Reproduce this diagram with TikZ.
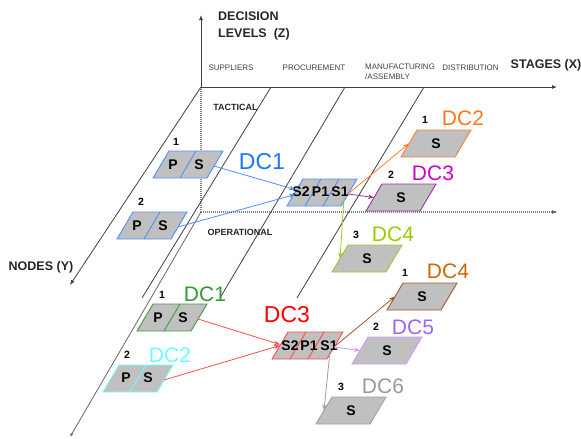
\documentclass[tikz,border=0pt]{standalone}
\usepackage{fontspec}
\setmainfont{Liberation Sans}
\usetikzlibrary{arrows.meta}
\definecolor{boxgray}{HTML}{C0C0C0}
\definecolor{cblue}{HTML}{4D8FFF}
\definecolor{lblue}{HTML}{1A75FF}
\definecolor{corange}{HTML}{FF8033}
\definecolor{lorange}{HTML}{FF7518}
\definecolor{cpurple}{HTML}{993399}
\definecolor{lmagenta}{HTML}{CC00CC}
\definecolor{cyg}{HTML}{99CC33}
\definecolor{lyg}{HTML}{99CC00}
\definecolor{cgreen}{HTML}{3F9A3F}
\definecolor{lgreen}{HTML}{339933}
\definecolor{ccyan}{HTML}{70FFFF}
\definecolor{lcyan}{HTML}{66FFFF}
\definecolor{cred}{HTML}{FF4D4D}
\definecolor{lred}{HTML}{FF0000}
\definecolor{cbrown}{HTML}{A8582E}
\definecolor{lbrown}{HTML}{CC6600}
\definecolor{clav}{HTML}{CC99FF}
\definecolor{llav}{HTML}{9966FF}
\definecolor{cgray}{HTML}{A0A0A0}
\definecolor{lgray}{HTML}{999999}
% box: name, bottom-left x, bottom y, width, colour
\newcommand\cbox[5]{%
  \filldraw[boxst, draw=#5] (#2,#3) -- ++(#4,0) -- ++(16,-27) -- ++(-#4,0) -- cycle;
  \coordinate (#1-L) at (#2+8,#3-13.5);
  \coordinate (#1-R) at (#2+#4+7,#3-12);
}
\newcommand\cdiv[3]{% bottom x, bottom y, colour
  \draw[draw=#3, line width=0.9pt] (#1,#2) -- ++(16,-27);
}
\begin{document}
\begin{tikzpicture}[x=1pt,y=-1pt,
  axis/.style={draw=black!75, line width=0.8pt},
  axarr/.style={axis, -{Latex[length=5pt,width=4pt]}},
  dots/.style={draw=black!50, dash pattern=on 1pt off 1pt, line width=1.2pt},
  boxst/.style={fill=boxgray, line width=0.9pt},
  cell/.style={font=\bfseries\fontsize{14}{15}\selectfont, inner sep=0.5pt},
  num/.style={font=\bfseries\fontsize{10.5}{11}\selectfont, inner sep=0pt},
  dclab/.style={font=\fontsize{21}{22}\selectfont, inner sep=0pt},
  biglab/.style={font=\fontsize{23}{24}\selectfont, inner sep=0pt},
  stage/.style={font=\fontsize{8}{10}\selectfont, text=black!75, inner sep=0pt},
  lvl/.style={font=\bfseries\fontsize{9}{10}\selectfont, text=black!85, inner sep=0pt},
  ttl/.style={font=\bfseries\fontsize{12.5}{17}\selectfont, text=black!85, inner sep=0pt},
  link/.style={line width=0.8pt, -{Stealth[length=6pt,width=4.5pt]}},
]
\useasboundingbox (0,0) rectangle (581,439);

% ---------- axes ----------
\coordinate (O) at (201,87);
\coordinate (Ztop) at (201,15);
\coordinate (Xend) at (557,87);
\coordinate (Yend) at (70,285);
\coordinate (Oop) at (201,212);
\coordinate (Xop) at (557,212);
\coordinate (Yop) at (70,437);
\coordinate (A1) at (271,87);  \coordinate (B1) at (142,298);
\coordinate (A2) at (345,87);  \coordinate (B2) at (220,298);
\coordinate (A3) at (424,87);  \coordinate (B3) at (297,298);

\draw[dots] (O) -- (Oop);
\draw[dots] (Oop) -- (Xop);
\draw[axis, draw=black!60, -{Latex[length=5pt,width=4pt]}] ([xshift=-2pt]Xop) -- (Xop);
\draw[axarr] (O) -- (Ztop);
\draw[axarr] (O) -- (Xend);
\draw[axarr] (O) -- (Yend);
\draw[axis, draw=black!60, -{Latex[length=4pt,width=3pt]}] (Oop) -- (Yop);
\draw[axis] (A1) -- (B1);
\draw[axis] (A2) -- (B2);
\draw[axis] (A3) -- (B3);

% ---------- axis texts ----------
\node[ttl, anchor=north west, align=left] (zlab) at (218,11.7) {DECISION\\LEVELS\ \ (Z)};
\node[ttl] (xlab) at (546,65) {STAGES (X)};
\node[ttl] (ylab) at (41,267) {NODES (Y)};
\node[stage] (sup) at (231,68) {SUPPLIERS};
\node[stage] (pro) at (314,68) {PROCUREMENT};
\node[stage, anchor=north west, align=left] (man) at (365,64) {MANUFACTURING\\/ASSEMBLY};
\node[stage] (dis) at (470.5,68) {DISTRIBUTION};
\node[lvl] (tac) at (235.5,107) {TACTICAL};
\node[lvl] (ope) at (240,232) {OPERATIONAL};

% ---------- tactical level ----------
\cbox{t1}{153}{178}{54}{cblue}  \cdiv{180}{178}{cblue}
\cbox{t2}{117}{239}{54}{cblue}  \cdiv{144}{239}{cblue}
\cbox{tm}{287}{206}{54}{cblue}  \cdiv{305}{206}{cblue} \cdiv{323}{206}{cblue}
\cbox{td1}{401}{157}{54}{corange}
\cbox{td2}{366}{211}{54}{cpurple}
\cbox{td3}{332}{272}{54}{cyg}

\node[cell] (t1p) at (173,165) {P};
\node[cell] (t1s) at (199,165) {S};
\node[cell] (t2p) at (137,226) {P};
\node[cell] (t2s) at (163,226) {S};
\node[cell] (tms2) at (301,192) {S2};
\node[cell] (tmp1) at (320.5,192) {P1};
\node[cell] (tms1) at (340,192) {S1};
\node[cell] (td1s) at (436,143.5) {S};
\node[cell] (td2s) at (401,197.5) {S};
\node[cell] (td3s) at (367,258.5) {S};

\node[num] (n1) at (176,142) {1};
\node[num] (n2) at (141,202) {2};
\node[num] (n3) at (425,120) {1};
\node[num] (n4) at (391,175) {2};
\node[num] (n5) at (356,235) {3};

\node[biglab, text=lblue] (lab1) at (262,162) {DC1};
\node[dclab, text=lorange] (lab2) at (463,118) {DC2};
\node[dclab, text=lmagenta] (lab3) at (433,173) {DC3};
\node[dclab, text=lyg] (lab4) at (393,234) {DC4};

\draw[link, cblue] (t1-R) -- ([yshift=3pt]tm-L);
\draw[link, cblue] (t2-R) -- ([yshift=-2pt]tm-L);
\draw[link, corange] (tm-R) -- (td1-L);
\draw[link, cpurple] (tm-R) -- (td2-L);
\draw[link, cyg] ([xshift=4pt]tms1.south) -- (td3-L);

% ---------- operational level ----------
\cbox{o1}{137}{331}{54}{cgreen}  \cdiv{164}{331}{cgreen}
\cbox{o2}{103}{392}{54}{ccyan}   \cdiv{130}{392}{ccyan}
\cbox{om}{272}{359}{55}{cred}    \cdiv{290}{359}{cred} \cdiv{308}{359}{cred}
\cbox{od1}{387}{310}{54}{cbrown}
\cbox{od2}{352}{364}{54}{clav}
\cbox{od3}{316}{424}{54}{cgray}

\node[cell] (o1p) at (158,318) {P};
\node[cell] (o1s) at (183,318) {S};
\node[cell] (o2p) at (126,378) {P};
\node[cell] (o2s) at (148,378) {S};
\node[cell] (oms2) at (290,345.5) {S2};
\node[cell] (omp1) at (309,345.5) {P1};
\node[cell] (oms1) at (329,345.5) {S1};
\node[cell] (od1s) at (422,296.5) {S};
\node[cell] (od2s) at (387,350.5) {S};
\node[cell] (od3s) at (351,410.5) {S};

\node[num] (m1) at (162,295) {1};
\node[num] (m2) at (127,355) {2};
\node[num] (m3) at (405,273) {1};
\node[num] (m4) at (376,327) {2};
\node[num] (m5) at (341,387) {3};

\node[dclab, text=lgreen] (lab5) at (205,294) {DC1};
\node[dclab, text=lcyan] (lab6) at (170,355) {DC2};
\node[biglab, text=lred] (lab7) at (287,315) {DC3};
\node[dclab, text=lbrown] (lab8) at (448,271) {DC4};
\node[dclab, text=llav] (lab9) at (413,327) {DC5};
\node[dclab, text=lgray] (lab10) at (383,386) {DC6};

\draw[link, cred] (o1-R) -- ([yshift=1pt]om-L);
\draw[link, cred] (o2-R) -- ([yshift=0pt]om-L);
\draw[link, cbrown] (om-R) -- (od1-L);
\draw[link, clav] (om-R) -- (od2-L);
\draw[link, cgray] ([xshift=1pt]oms1.south) -- (od3-L);
\end{tikzpicture}
\end{document}
